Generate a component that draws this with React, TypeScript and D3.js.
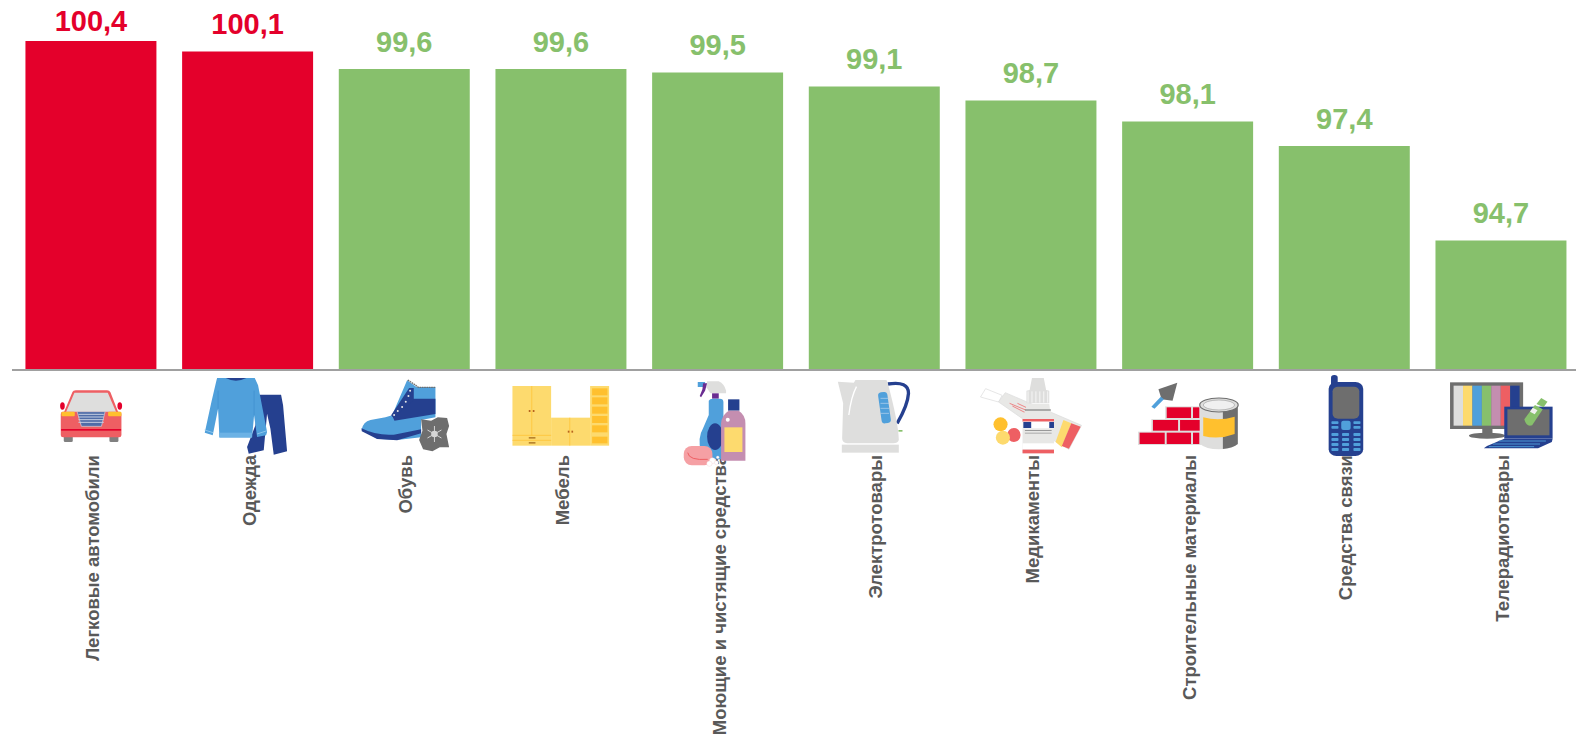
import React from "react";
import * as d3 from "d3";

const categories = ["Легковые автомобили","Одежда","Обувь","Мебель","Моющие и чистящие средства","Электротовары","Медикаменты","Строительные материалы","Средства связи","Телерадиотовары"];
const values = [100.4,100.1,99.6,99.6,99.5,99.1,98.7,98.1,97.4,94.7];
const valueLabels = ["100,4","100,1","99,6","99,6","99,5","99,1","98,7","98,1","97,4","94,7"];
const barColors = ["#E4002B","#E4002B","#87C06C","#87C06C","#87C06C","#87C06C","#87C06C","#87C06C","#87C06C","#87C06C"];

const W = 1576, H = 735, BASE = 370;
const RED="#E4002B", BLUE="#50A0DB", NAVY="#25408F", GRAY="#DEDEDD", DG="#6E6E6E", YEL="#FDDA6E", AMB="#FFC02E", PINK="#EE5F63";

const Car = () => (
  <g>
    <rect x={190} y={226} width={27} height={20} rx={4} fill="#808080"/>
    <rect x={327} y={226} width={27} height={20} rx={4} fill="#808080"/>
    <ellipse cx={186} cy={138} rx={7} ry={11} fill={RED}/>
    <ellipse cx={358} cy={138} rx={7} ry={11} fill={RED}/>
    <path d="M190 158L216 96Q218 91 226 91L320 91Q327 91 330 97L354 158Z" fill={PINK}/>
    <path d="M197 156L222 98L322 98L347 156Z" fill={GRAY}/>
    <rect x={181} y={155} width={182} height={77} rx={7} fill={PINK}/>
    <rect x={183} y={155} width={40} height={14} rx={3} fill={AMB}/>
    <rect x={323} y={155} width={40} height={14} rx={3} fill={AMB}/>
    <path d="M230 155L314 155L303 199L243 199Z" fill="#4F6CA8" stroke="#D8D8E0" strokeWidth={2}/>
    {[163,171,179,187].map(y=><line key={y} x1={234} x2={310} y1={y} y2={y} stroke="#C5CEE2" strokeWidth={3}/>)}
    <rect x={182} y={207} width={180} height={5} fill={RED}/>
  </g>
);

const Clothes = () => (
  <g>
    <path d="M775 104L842 104L848 136L860 274L820 284L810 206L800 161L790 271L745 281L740 261L765 196Z" fill={NAVY}/>
    <path d="M650 54L763 54L773 76L800 216L797 226L770 231L761 166L755 232L657 232L653 146L637 226L613 218L633 126L647 66Z" fill={BLUE}/>
    <path d="M676 54Q706 70 738 54Z" fill={NAVY}/>
    <rect x={657} y={218} width={98} height={15} fill="#6CB2E5"/>
    <path d="M653 92L653 146M761 92L761 166" stroke="#3C8CCB" strokeWidth={2} fill="none"/>
    <path d="M613 210L638 218M770 222L800 212" stroke="#8CC4EC" strokeWidth={3} fill="none"/>
  </g>
);

const Boot = () => (
  <g>
    <path d="M1220 61L1248 81L1305 81L1305 172L1262 180L1262 232L1190 240L1130 236L1084 208Q1088 186 1110 180L1155 172L1175 166Z" fill={BLUE}/>
    <path d="M1175 166L1215 116L1305 116L1305 162L1182 182Z" fill={NAVY}/>
    <path d="M1226 84L1240 84L1240 120L1215 142L1182 176L1172 166Z" fill={NAVY}/>
    <path d="M1083 205Q1130 228 1180 224L1262 208L1262 220L1190 241L1130 237L1084 214Z" fill={NAVY}/>
    {[[1181,165],[1192,153],[1205,141],[1216,125],[1224,108],[1229,92]].map(([x,y])=><circle key={x} cx={x} cy={y} r={3} fill="#E8E8E8"/>)}
    <path d="M1222 60L1246 76L1254 82L1306 82" stroke={DG} strokeWidth={4} strokeDasharray="5 2" fill="none"/>
    <path d="M1262 178L1292 182L1312 172L1340 174L1346 198L1338 222L1346 262L1318 262L1296 274L1268 268L1256 240L1266 212Z" fill={DG}/>
    <path d="M1302 198V246M1281 210L1323 234M1281 234L1323 210" stroke="#D5D5D5" strokeWidth={3} fill="none"/>
    <circle cx={1302} cy={222} r={10} fill="#D5D5D5"/>
  </g>
);

const Furniture = () => (
  <g>
    <rect x={96} y={78} width={116} height={179} fill={YEL}/>
    <rect x={212} y={173} width={117} height={84} fill={YEL}/>
    <rect x={329} y={78} width={57} height={179} fill={YEL}/>
    {[85,112,140,168,196,230].map(y=><rect key={y} x={335} y={y} width={46} height={y===230?20:21} fill={AMB}/>)}
    <path d="M154 78V226M96 226H212M96 241H212M268 173V257" stroke={AMB} strokeWidth={2} fill="none"/>
    {[[147,153],[159,153],[264,215],[275,215]].map(([x,y])=><rect key={x} x={x-2} y={y-3} width={5} height={6} fill="#B8641E"/>)}
    <rect x={145} y={231} width={20} height={5} fill="#B8842E"/>
    <rect x={145} y={246} width={20} height={5} fill="#B8842E"/>
  </g>
);

const Cleaners = () => (
  <g>
    <path d="M680 64L715 64Q732 72 737 92L737 100L690 100L678 82Z" fill={GRAY}/>
    <rect x={652} y={66} width={22} height={15} fill={BLUE}/>
    <path d="M668 70L680 70L674 92L662 112L658 108L666 88Z" fill="#6A2C91"/>
    <rect x={695} y={100} width={20} height={16} fill="#6A2C91"/>
    <path d="M685 122Q688 116 698 116L718 116Q729 116 729 126L729 298L690 298L662 276Q650 235 668 205L685 165Z" fill={BLUE}/>
    <ellipse cx={704} cy={230} rx={24} ry={40} fill={NAVY}/>
    <rect x={743} y={118} width={34} height={34} fill={NAVY}/>
    <path d="M745 152L775 152Q795 165 795 190L795 302L722 302L722 190Q724 165 745 152Z" fill="#C48EB0"/>
    <rect x={732} y={202} width={54} height={74} fill={YEL}/>
    <circle cx={742} cy={179} r={6} fill="#FFF"/>
    <rect x={610} y={258} width={86} height={58} rx={24} fill="#F5A0A4"/>
    <path d="M622 278Q625 302 682 298" stroke={PINK} strokeWidth={3} fill="none"/>
    {[[696,302,9],[708,308,6],[687,311,8],[712,292,4]].map(([x,y,r])=><circle key={x} cx={x} cy={y} r={r} fill="#FFF" stroke="#F3C9CC" strokeWidth={1}/>)}
  </g>
);

const Kettle = () => (
  <g>
    <path d="M1222 72Q1285 62 1284 100Q1282 135 1250 190" fill="none" stroke={NAVY} strokeWidth={10}/>
    <path d="M1072 65L1120 68L1125 60L1218 60L1222 70Q1254 190 1255 240Q1252 250 1238 250L1100 250Q1085 248 1085 235L1088 130Z" fill={GRAY}/>
    <path d="M1128 80Q1112 110 1105 165" stroke="#FFF" strokeWidth={4} fill="none"/>
    <rect x={1198} y={96} width={28} height={94} rx={10} transform="rotate(-8 1212 143)" fill={BLUE}/>
    {[115,130,145,160].map(y=><line key={y} x1={1200} x2={1226} y1={y} y2={y} stroke="#BCD8EE" strokeWidth={2}/>)}
    <rect x={1084} y={254} width={171} height={24} fill={GRAY}/>
    <rect x={1254} y={210} width={12} height={5} fill="#87C06C"/>
  </g>
);

const Medicine = () => (
  <g>
    <path d="M51 111L64 86L106 106L97 126Z" fill="#FFF" stroke="#DDD" strokeWidth={2}/>
    <path d="M114 98L308 196L276 268L237 241L97 126Z" fill="#E8E8E6" stroke="#DDD" strokeWidth={2}/>
    <path d="M262 180L282 190L258 262L242 246Z" fill={YEL}/>
    <path d="M282 190L306 200L276 266L258 258Z" fill={PINK}/>
    <path d="M125 130L170 152M132 138L165 158M145 130L172 145" stroke={PINK} strokeWidth={2}/>
    <path d="M182 54L212 54L218 90L226 92L226 130L168 130L168 92L176 90Z" fill={GRAY}/>
    <path d="M172 94V128M182 94V128M192 94V128M202 94V128M212 94V128M222 94V128" stroke="#FFF" strokeWidth={2}/>
    <path d="M168 132H226L228 150L238 168V280H158V168L166 150Z" fill="#E8E8E6"/>
    <rect x={164} y={148} width={66} height={4} fill="#8A8A8A"/>
    <rect x={158} y={177} width={80} height={8} fill={PINK}/>
    <rect x={158} y={185} width={80} height={20} fill="#FFF"/>
    <rect x={160} y={186} width={20} height={18} fill={NAVY}/>
    <rect x={226} y={186} width={12} height={18} fill={NAVY}/>
    <rect x={164} y={210} width={68} height={3} fill="#999"/>
    <rect x={164} y={218} width={68} height={3} fill="#AAA"/>
    <rect x={158} y={250} width={80} height={18} fill="#FFF"/>
    <rect x={158} y={269} width={80} height={11} fill={PINK}/>
    <ellipse cx={102} cy={193} rx={18} ry={21} fill={AMB}/>
    <ellipse cx={136} cy={225} rx={17} ry={21} fill={PINK}/>
    <ellipse cx={108} cy={233} rx={18} ry={21} fill={YEL}/>
  </g>
);

const Building = () => (
  <g>
    <path d="M552 68L504 88L512 118L540 122Z" fill={DG}/>
    <path d="M510 110L486 140L494 146L518 118Z" fill={BLUE}/>
    <rect x={452} y={215} width={160} height={40} fill={GRAY}/>
    <rect x={486} y={177} width={124} height={40} fill={GRAY}/>
    <rect x={521} y={139} width={89} height={40} fill={GRAY}/>
    {[[525,142,62,32],[592,142,16,32],[490,180,64,32],[559,180,50,32],[456,218,64,34],[525,218,62,34],[592,218,16,34]].map(([x,y,w,h])=>(
      <rect key={`${x}-${y}`} x={x} y={y} width={w} height={h} fill={RED}/>
    ))}
    <path d="M610 135H706V252Q690 268 658 268Q625 268 610 252Z" fill={GRAY}/>
    <path d="M668 135H706V252Q695 264 668 267Z" fill={DG}/>
    <path d="M618 172Q658 184 698 170V222Q658 240 618 228Z" fill={AMB}/>
    <ellipse cx={658} cy={135} rx={49} ry={21} fill={GRAY} stroke={DG} strokeWidth={3}/>
    <ellipse cx={658} cy={135} rx={40} ry={15} fill="#F0F0F0" stroke="#A8A8A8" strokeWidth={2}/>
  </g>
);

const Phone = () => (
  <g>
    <rect x={943} y={45} width={17} height={50} rx={8} fill={NAVY}/>
    <rect x={937} y={66} width={88} height={222} rx={20} fill={NAVY}/>
    <rect x={947} y={80} width={68} height={96} rx={14} fill={DG}/>
    <rect x={969} y={182} width={24} height={28} rx={6} fill={BLUE}/>
    {[184,198].map(y=>[944,1000].map(x=><rect key={`${x}${y}`} x={x} y={y} width={18} height={8} rx={2} fill={BLUE}/>))}
    {[219,234,249,264].map(y=>[944,971,1000].map(x=><rect key={`${x}${y}`} x={x} y={y} width={18} height={9} rx={2} fill={BLUE}/>))}
  </g>
);

const TVs = () => {
  const stripes = [GRAY, YEL, BLUE, "#87C06C", "#C48EB0", PINK, NAVY];
  return (
    <g>
      <rect x={1246} y={67} width={186} height={140} fill={DG}/>
      {stripes.map((c,i)=><rect key={c} x={1255+i*24} y={77} width={24} height={120} fill={c}/>)}
      <rect x={1328} y={205} width={26} height={18} fill={DG}/>
      <ellipse cx={1340} cy={227} rx={46} ry={9} fill={DG}/>
      <rect x={1384} y={140} width={123} height={96} fill={NAVY}/>
      <rect x={1392} y={148} width={107} height={78} fill={DG}/>
      <path d="M1384 236H1507L1505 246L1470 265H1332L1340 258Z" fill={NAVY}/>
      <path d="M1370 243H1490M1355 252H1475M1345 260H1460" stroke={BLUE} strokeWidth={2.5}/>
      <path d="M1435 178L1462 135L1482 148L1455 196Q1440 202 1435 178Z" fill="#87C06C"/>
      <path d="M1466 132L1478 114L1494 125L1484 142Z" fill="#87C06C"/>
      <rect x={1452} y={146} width={14} height={14} fill="#F0F0F0" transform="rotate(30 1459 153)"/>
    </g>
  );
};

const icons = [
  { C: Car, ox: 271.5, sx: 1/3 },
  { C: Clothes, ox: 741.6, sx: 1/3 },
  { C: Boot, ox: 1211.5, sx: 1/3 },
  { C: Furniture, ox: 241.5, sx: 1/3 },
  { C: Cleaners, ox: 711.6, sx: 1/3 },
  { C: Kettle, ox: 1181.4, sx: 1/3 },
  { C: Medicine, ox: 179.4, sx: 1/2.545 },
  { C: Building, ox: 578.3, sx: 1/2.545 },
  { C: Phone, ox: 976.8, sx: 1/2.545 },
  { C: TVs, ox: 1375.6, sx: 1/2.545 },
];

export default function App() {
  const x = d3.scaleBand<string>().domain(categories).range([12.6, 1579.3]).paddingInner(0.164).paddingOuter(0.082);
  const y = d3.scaleLinear().domain([91, 100.4]).range([BASE, 41]);
  const font = "'Liberation Sans', Arial, sans-serif";
  return (
    <svg width={W} height={H} style={{ position: "absolute", left: 0, top: 0, background: "#fff" }} fontFamily={font}>
      {categories.map((c, i) => {
        const bx = x(c)!;
        return (
          <g key={c}>
            <rect x={bx} y={y(values[i])} width={x.bandwidth()} height={BASE - y(values[i])} fill={barColors[i]} />
            <text x={bx + x.bandwidth() / 2} y={Math.max(y(values[i]) - 17.5, 31)} textAnchor="middle" fontSize={29} fontWeight="bold" fill={barColors[i]}>{valueLabels[i]}</text>
          </g>
        );
      })}
      <line x1={12} x2={W} y1={BASE} y2={BASE} stroke="#A0A0A0" strokeWidth={2} />
      {categories.map((c) => {
        const cx = x(c)! + x.bandwidth() / 2;
        return (
          <text key={c} transform={`translate(${cx + 8},455) rotate(-90)`} textAnchor="end" fontSize={18.5} fontWeight="bold" fill="#595959">{c}</text>
        );
      })}
      {categories.map((c, i) => {
        const { C, ox, sx } = icons[i];
        const cx = x(c)! + x.bandwidth() / 2;
        return (
          <g key={c} transform={`translate(${cx},${BASE}) scale(${sx},${1/3}) translate(${-ox},-30)`}><C /></g>
        );
      })}
    </svg>
  );
}
